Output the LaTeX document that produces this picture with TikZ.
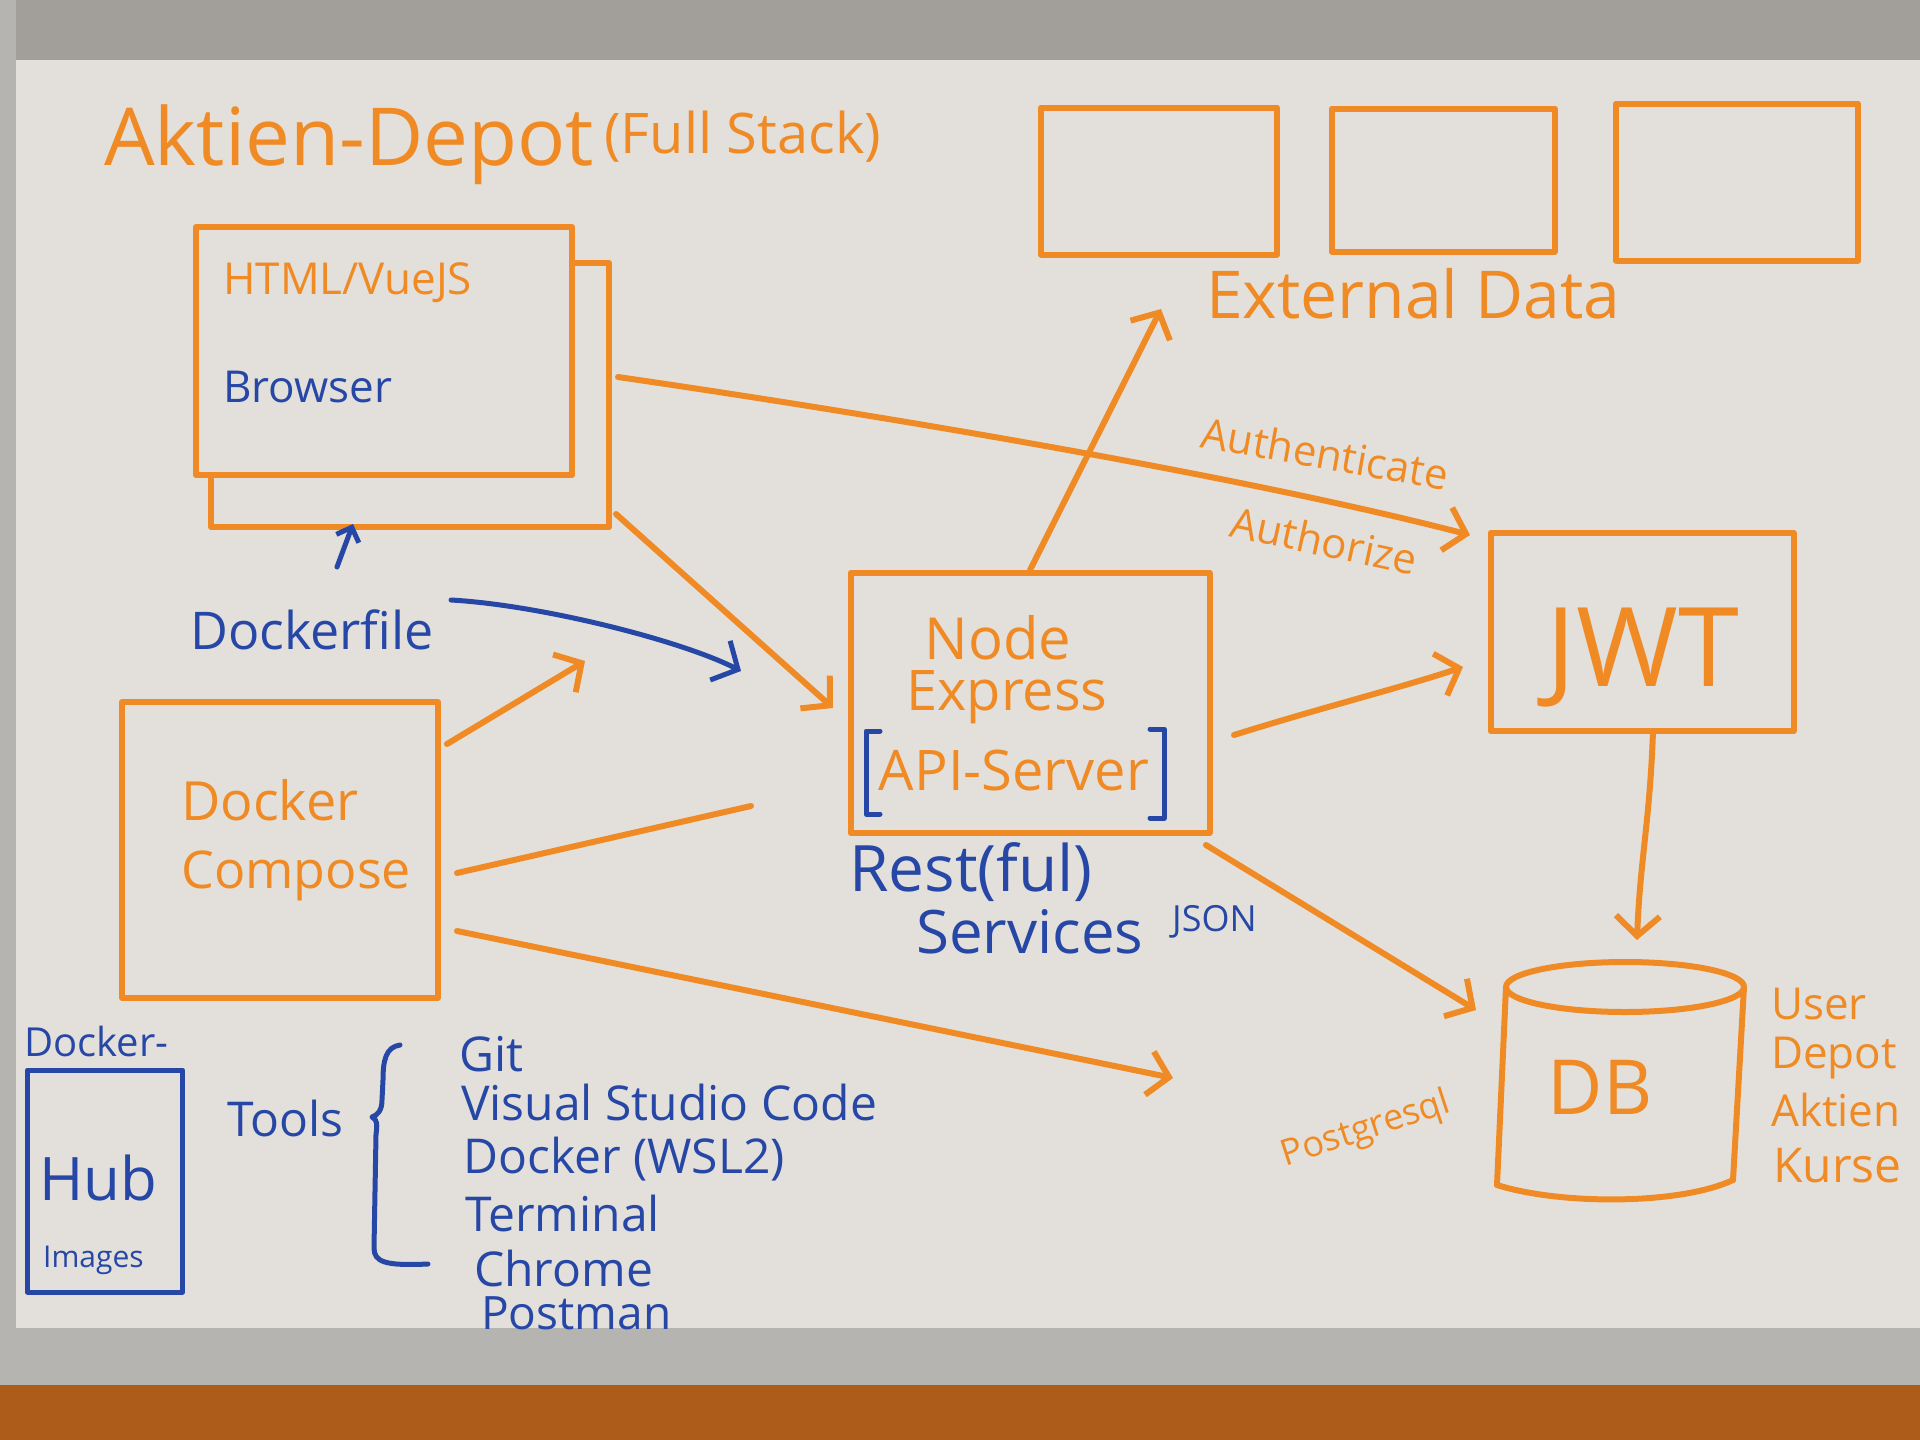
\documentclass[tikz,border=0pt]{standalone}
\usepackage{fontspec}
\setmainfont{Open Sans}
\usetikzlibrary{arrows.meta}
\definecolor{marker}{HTML}{F08A24}
\definecolor{pen}{HTML}{2747A6}
\definecolor{board}{HTML}{E3E0DB}
\definecolor{frametop}{HTML}{A29E99}
\definecolor{framebot}{HTML}{B6B4B0}
\definecolor{wood}{HTML}{AE5C1A}
\tikzset{
  obox/.style={draw=marker, line width=6pt, line join=round, rectangle, inner sep=0pt},
  bbox/.style={draw=pen, line width=5pt, line join=round, rectangle, inner sep=0pt},
  otext/.style={text=marker, inner sep=0pt},
  btext/.style={text=pen, inner sep=0pt},
  oline/.style={draw=marker, line width=6pt, line cap=round, line join=round},
  bline/.style={draw=pen, line width=5pt, line cap=round, line join=round},
  tip/.style={-{Straight Barb[length=20pt,width=44pt]}},
  smalltip/.style={-{Straight Barb[length=12pt,width=24pt]}},
  fs/.style={font=\fontsize{#1}{#1}\selectfont},
  tight/.style={text height=0.72*#1, text depth=0.05*#1},
}
\begin{document}
\begin{tikzpicture}[x=1pt,y=-1pt]
\useasboundingbox (0,0) rectangle (1920,1440);
% board and frame
\fill[wood] (0,1380) rectangle (1920,1440);
\fill[framebot] (0,1320) rectangle (1920,1385);
\fill[frametop] (0,0) rectangle (1920,62);
\fill[framebot] (0,0) rectangle (16,1385);
\fill[board] (16,60) rectangle (1920,1328);

% title
\node[otext, fs=80, anchor=base west] (title) at (104,165) {Aktien-Depot};
\node[otext, fs=56, anchor=base west] (subtitle) at (604,153) {(Full Stack)};

% browser
\node[obox, minimum width=398, minimum height=264] (browserback) at (410,395) {};
\node[obox, fill=board, minimum width=376, minimum height=248] (browser) at (384,351) {};
\node[otext, fs=44, anchor=base west] (html) at (223,294) {HTML/VueJS};
\node[btext, fs=44, anchor=base west] (browserlabel) at (223,402) {Browser};

% dockerfile
\node[btext, fs=52, anchor=base west] (dockerfile) at (190,649) {Dockerfile};

% docker compose
\node[obox, minimum width=316, minimum height=296] (compose) at (280,850) {};
\node[otext, fs=54, anchor=base west] (composea) at (181,820) {Docker};
\node[otext, fs=52, anchor=base west] (composeb) at (181,888) {Compose};

% api server
\node[obox, minimum width=359, minimum height=260] (api) at (1030,703) {};
\node[otext, fs=58, anchor=base] (nodel) at (998,659) {Node};
\node[otext, fs=56, anchor=base] (expressl) at (1007,710) {Express};
\node[otext, fs=56, anchor=base] (apil) at (1014,790) {API-Server};
\draw[bline] (880,731) -- (866,731) -- (866,814) -- (880,814);
\draw[bline] (1150,729) -- (1164,729) -- (1164,818) -- (1150,818);
\node[btext, fs=64, tight=64, anchor=base west] (rest) at (849,891) {Rest(ful)};
\node[btext, fs=60, tight=60, anchor=base west] (services) at (916,953) {Services};
\node[btext, fs=36, tight=36, anchor=base west] (json) at (1172,931) {JSON};

% external data
\node[obox, minimum width=236, minimum height=147] (ext1) at (1159,181) {};
\node[obox, minimum width=223, minimum height=143] (ext2) at (1443,180) {};
\node[obox, minimum width=242, minimum height=157] (ext3) at (1737,182) {};
\node[otext, fs=66, anchor=base west] (extlabel) at (1206,318) {External Data};

% jwt
\node[obox, minimum width=303, minimum height=198] (jwt) at (1642,632) {};
\node[otext, fs=110, anchor=base] (jwtl) at (1643,686) {JWT};
\node[otext, fs=42, tight=42, rotate=-10] (authn) at (1325,455) {Authenticate};
\node[otext, fs=42, tight=42, rotate=-12] (authz) at (1324,542) {Authorize};

% database
\node[minimum width=240, minimum height=215, inner sep=0pt] (db) at (1622,1090) {};
\draw[oline] (1625,987) ellipse [x radius=119, y radius=25];
\draw[oline] (1506,987) -- (1497,1185);
\draw[oline] (1744,987) -- (1733,1180);
\draw[oline] (1497,1185) .. controls (1560,1205) and (1680,1205) .. (1733,1180);
\node[otext, fs=76, anchor=base] (dbl) at (1600,1114) {DB};
\node[otext, fs=44, tight=44, anchor=base west] (dbu) at (1771,1019) {User};
\node[otext, fs=44, tight=44, anchor=base west] (dbd) at (1771,1068) {Depot};
\node[otext, fs=44, tight=44, anchor=base west] (dba) at (1771,1126) {Aktien};
\node[otext, fs=48, tight=48, anchor=base west] (dbk) at (1773,1182) {Kurse};
\node[otext, fs=36, rotate=18] (pg) at (1366,1130) {Postgresql};

% docker hub
\node[bbox, minimum width=155, minimum height=222] (hub) at (105,1181) {};
\node[btext, fs=40, anchor=base west] (dockerhub) at (24,1056) {Docker-};
\node[btext, fs=60, anchor=base] (hubl) at (98,1200) {Hub};
\node[btext, fs=30, anchor=base west] (images) at (43,1267) {Images};

% tools
\node[btext, fs=48, anchor=base west] (tools) at (227,1136) {Tools};
\draw[bline] (400,1045) .. controls (386,1047) and (383,1060) .. (383,1080) -- (382,1100)
  .. controls (382,1110) and (378,1115) .. (372,1117)
  .. controls (378,1120) and (377,1125) .. (376,1135) -- (374,1248)
  .. controls (374,1262) and (385,1266) .. (428,1264);
\node[btext, fs=48, tight=48, anchor=base west] (git) at (459,1071) {Git};
\node[btext, fs=48, tight=48, anchor=base west] (vsc) at (461,1120) {Visual Studio Code};
\node[btext, fs=48, tight=48, anchor=base west] (dock) at (463,1173) {Docker (WSL2)};
\node[btext, fs=48, tight=48, anchor=base west] (term) at (465,1231) {Terminal};
\node[btext, fs=48, tight=48, anchor=base west] (chrome) at (474,1286) {Chrome};
\node[btext, fs=46, tight=46, anchor=base west] (postman) at (481,1329) {Postman};

% connector end points
\coordinate (dfa) at (337,567);
\coordinate (dfb) at (353,524);
\coordinate (dfc) at (451,600);
\coordinate (dfd) at (741,671);
\coordinate (bra) at (618,377);
\coordinate (brb) at (1470,535);
\coordinate (brc) at (616,514);
\coordinate (brd) at (833,708);
\coordinate (ca) at (447,744);
\coordinate (cb) at (585,661);
\coordinate (cc) at (457,873);
\coordinate (cd) at (751,806);
\coordinate (ce) at (457,931);
\coordinate (cf) at (1173,1078);
\coordinate (exta) at (1161,309);
\coordinate (apia) at (1234,735);
\coordinate (jwta) at (1463,667);
\coordinate (apib) at (1206,845);
\coordinate (dba1) at (1476,1010);
\coordinate (jwtb) at (1653,731);
\coordinate (dbb) at (1637,940);

% connectors
\draw[bline, smalltip] (dfa) -- (dfb);
\draw[bline, tip] (dfc) .. controls (540,605) and (680,640) .. (dfd);
\draw[oline, tip] (bra) .. controls (900,418) and (1250,478) .. (brb);
\draw[oline, tip] (brc) -- (brd);
\draw[oline, tip] (ca) -- (cb);
\draw[oline] (cc) -- (cd);
\draw[oline, tip] (ce) -- (cf);
\draw[oline, tip] (api.north) -- (exta);
\draw[oline, tip] (apia) .. controls (1320,708) and (1400,688) .. (jwta);
\draw[oline, tip] (apib) -- (dba1);
\draw[oline, tip] (jwtb) .. controls (1650,820) and (1640,860) .. (dbb);
\end{tikzpicture}
\end{document}
